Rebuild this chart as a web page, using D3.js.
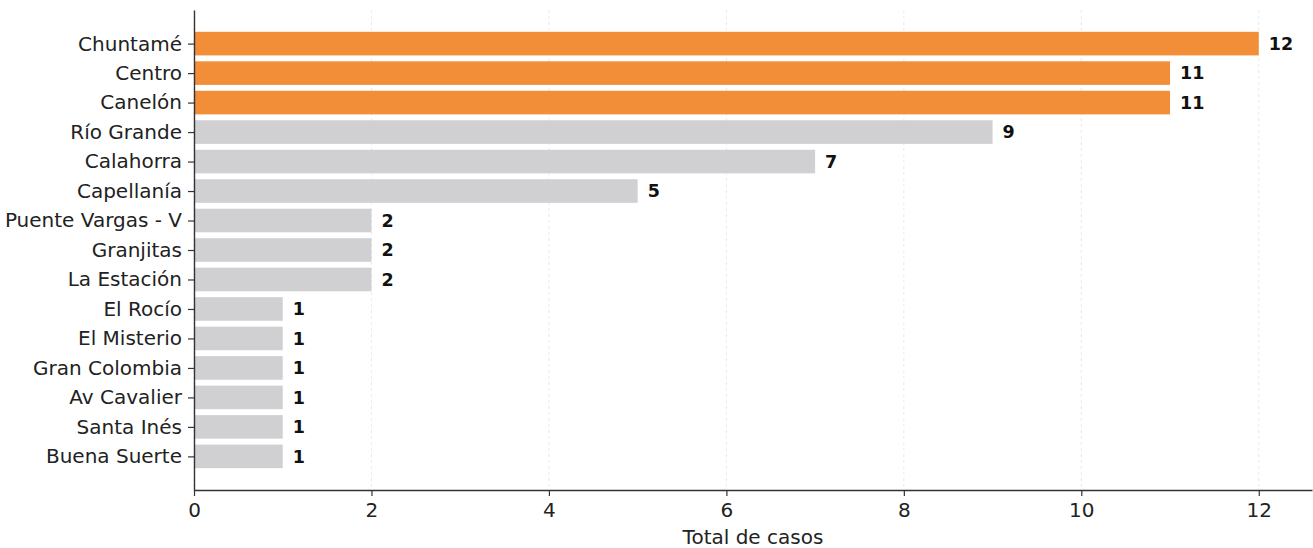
<!DOCTYPE html>
<html><head><meta charset="utf-8">
<script src="https://cdn.jsdelivr.net/npm/d3@7"></script>
<style>body{margin:0;background:#fff}svg{display:block;font-family:"DejaVu Sans",sans-serif}</style>
</head><body>
<svg id="c" width="1313" height="548"></svg>
<script>
const categories = ["Chuntamé","Centro","Canelón","Río Grande","Calahorra","Capellanía","Puente Vargas - V","Granjitas","La Estación","El Rocío","El Misterio","Gran Colombia","Av Cavalier","Santa Inés","Buena Suerte"];
const values = [12,11,11,9,7,5,2,2,2,1,1,1,1,1,1];
const highlighted = [true,true,true,false,false,false,false,false,false,false,false,false,false,false,false];
const xTicks = [0,2,4,6,8,10,12];
const xLabel = "Total de casos";

(function(){
const svg = d3.select("#c");
const mL = 194, mR = 1312, mT = 10, mB = 490;
const x = d3.scaleLinear().domain([0, 12.6]).range([mL, mR]);
const y = d3.scaleLinear().domain([-1.14, 15.14]).range([mT, mB]);
const bh = (y(1) - y(0)) * 0.8;

// grid
svg.append("g").selectAll("line").data(xTicks).join("line")
  .attr("x1", d => x(d)).attr("x2", d => x(d)).attr("y1", mT).attr("y2", mB)
  .attr("stroke", "#e4e4e4").attr("stroke-width", 0.8).attr("stroke-dasharray", "3,3");

// bars
svg.append("g").selectAll("rect").data(categories).join("rect")
  .attr("x", x(0)).attr("y", (d, i) => y(i) - bh / 2)
  .attr("width", (d, i) => x(values[i]) - x(0)).attr("height", bh)
  .attr("fill", (d, i) => highlighted[i] ? "#F28E38" : "#D0D0D3");

// value labels
svg.append("g").selectAll("text").data(categories).join("text")
  .attr("x", (d, i) => x(values[i]) + 10).attr("y", (d, i) => y(i))
  .attr("dy", "0.35em").attr("font-size", 17.5).attr("font-weight", "bold").attr("fill", "#111")
  .text((d, i) => values[i]);

// x axis
const xa = svg.append("g").attr("transform", `translate(0,${mB})`)
  .call(d3.axisBottom(x).tickValues(xTicks).tickSize(6).tickPadding(7).tickSizeOuter(0));
xa.select(".domain").attr("stroke", "#333").attr("stroke-width", 1.4);
xa.selectAll(".tick line").attr("stroke", "#333").attr("stroke-width", 1.2);
xa.selectAll("text").attr("font-size", 20).attr("fill", "#222").attr("font-family", "DejaVu Sans");

// y axis
const ya = svg.append("g").attr("transform", `translate(${mL},0)`)
  .call(d3.axisLeft(y).tickValues(d3.range(categories.length)).tickFormat(i => categories[i]).tickSize(6).tickPadding(6).tickSizeOuter(0));
ya.select(".domain").attr("stroke", "#333").attr("stroke-width", 1.4);
ya.selectAll(".tick line").attr("stroke", "#333").attr("stroke-width", 1.2);
ya.selectAll("text").attr("font-size", 20).attr("fill", "#222").attr("font-family", "DejaVu Sans");

svg.append("text").attr("x", (mL + mR) / 2).attr("y", 544)
  .attr("text-anchor", "middle").attr("font-size", 20).attr("fill", "#222").text(xLabel);
})();
</script>
</body></html>
